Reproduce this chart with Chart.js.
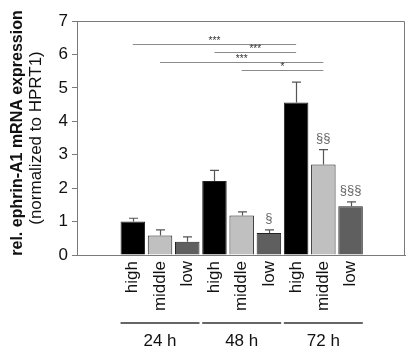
<!DOCTYPE html>
<html>
<head>
<meta charset="utf-8">
<script src="https://cdn.jsdelivr.net/npm/chart.js@4"></script>
<style>
  html, body { margin: 0; padding: 0; background: #fff; }
  #wrap { width: 416px; height: 358px; }
</style>
</head>
<body>
<div id="wrap"><canvas id="chart" width="416" height="358"></canvas></div>
<script>
// data
const groups = ['24 h', '48 h', '72 h'];
const levels = ['high', 'middle', 'low'];
const means = [1.00, 0.58, 0.40, 2.21, 1.18, 0.66, 4.56, 2.71, 1.46];
const errors = [0.10, 0.17, 0.14, 0.32, 0.11, 0.09, 0.61, 0.44, 0.13];
const levelColors = ['#000000', '#c0c0c0', '#5f5f5f'];
// significance brackets: from bar, to bar, stars, height
const sigFrom = [0, 3, 1, 4];
const sigTo = [6, 6, 7, 7];
const sigStars = ['***', '***', '***', '*'];
const sigHeight = [6.32, 6.06, 5.78, 5.52];
// § marks over bars
const markBars = [5, 7, 8];
const markText = ['§', '§§', '§§§'];

const FONT = '"Liberation Sans", Arial, sans-serif';

const points = means.map((v, i) => ({ x: i + 1, y: v }));
const colors = means.map((v, i) => levelColors[i % 3]);

const extras = {
  id: 'extras',
  afterDatasetsDraw(chart) {
    const ctx = chart.ctx;
    const x = chart.scales.x, y = chart.scales.y;
    const area = chart.chartArea;
    ctx.save();

    // frame
    ctx.strokeStyle = '#7a7a7a';
    ctx.lineWidth = 1;
    ctx.beginPath();
    ctx.moveTo(area.left, area.top + 0.5);
    ctx.lineTo(area.right - 0.5, area.top + 0.5);
    ctx.lineTo(area.right - 0.5, area.bottom);
    ctx.stroke();

    // error bars
    ctx.strokeStyle = '#555';
    ctx.lineWidth = 1.2;
    means.forEach((m, i) => {
      const px = Math.round(x.getPixelForValue(i + 1)) + 0.5;
      const y0 = y.getPixelForValue(m);
      const y1 = y.getPixelForValue(m + errors[i]);
      ctx.beginPath();
      ctx.moveTo(px, y0);
      ctx.lineTo(px, y1);
      ctx.moveTo(px - 4.5, y1);
      ctx.lineTo(px + 4.5, y1);
      ctx.stroke();
    });

    // significance lines
    ctx.strokeStyle = '#8a8a8a';
    ctx.lineWidth = 1;
    ctx.fillStyle = '#333';
    ctx.font = '10px ' + FONT;
    ctx.textAlign = 'center';
    ctx.textBaseline = 'bottom';
    sigFrom.forEach((f, k) => {
      const xa = x.getPixelForValue(f + 1);
      const xb = x.getPixelForValue(sigTo[k] + 1);
      const py = Math.round(y.getPixelForValue(sigHeight[k])) + 0.5;
      ctx.beginPath();
      ctx.moveTo(xa, py);
      ctx.lineTo(xb, py);
      ctx.stroke();
      ctx.fillText(sigStars[k], (xa + xb) / 2, py + 2);
    });

    // § marks
    ctx.fillStyle = '#666';
    ctx.font = '13px ' + FONT;
    ctx.textBaseline = 'bottom';
    markBars.forEach((b, k) => {
      const px = x.getPixelForValue(b + 1);
      const py = y.getPixelForValue(means[b] + errors[b]);
      ctx.fillText(markText[k], px, py - 5);
    });

    // group lines and labels
    ctx.strokeStyle = '#333';
    ctx.lineWidth = 1.5;
    ctx.fillStyle = '#111';
    ctx.font = '17px ' + FONT;
    ctx.textBaseline = 'middle';
    groups.forEach((g, k) => {
      const xa = x.getPixelForValue(k * 3 + 1 - 0.45);
      const xb = x.getPixelForValue(k * 3 + 3 + 0.45);
      ctx.beginPath();
      ctx.moveTo(xa, 323);
      ctx.lineTo(xb, 323);
      ctx.stroke();
      ctx.fillText(g, (xa + xb) / 2, 341);
    });

    // y axis title, two lines
    const cy = (area.top + area.bottom) / 2;
    ctx.fillStyle = '#111';
    ctx.translate(18, cy - 5);
    ctx.rotate(-Math.PI / 2);
    ctx.font = 'bold 16px ' + FONT;
    ctx.fillText('rel. ephrin-A1 mRNA expression', 0, 0);
    ctx.font = '17px ' + FONT;
    ctx.fillText('(normalized to HPRT1)', -5, 18);
    ctx.restore();
  }
};

new Chart(document.getElementById('chart'), {
  type: 'bar',
  data: {
    datasets: [{
      data: points,
      backgroundColor: colors,
      borderColor: '#222',
      borderWidth: 1,
      barPercentage: 0.9,
      categoryPercentage: 1
    }]
  },
  options: {
    responsive: false,
    animation: false,
    events: [],
    layout: { padding: { top: 21, right: 11, left: 0, bottom: 0 } },
    plugins: { legend: { display: false }, tooltip: { enabled: false } },
    scales: {
      x: {
        type: 'linear',
        offset: false,
        min: -1.05,
        max: 11,
        grid: { display: false, drawTicks: false, offset: false },
        border: { display: true, color: '#7a7a7a', width: 1 },
        afterBuildTicks(scale) {
          scale.ticks = means.map((m, i) => ({ value: i + 1 }));
        },
        afterFit(scale) { scale.height = 103; },
        ticks: {
          autoSkip: false,
          minRotation: 90,
          maxRotation: 90,
          padding: 6,
          color: '#111',
          font: { family: FONT, size: 17 },
          callback: (v) => levels[(v - 1) % 3]
        }
      },
      y: {
        min: 0,
        max: 7,
        grid: { drawOnChartArea: false, color: '#7a7a7a', tickLength: 5 },
        border: { display: true, color: '#7a7a7a', width: 1 },
        afterFit(scale) { scale.width = 77; },
        ticks: {
          stepSize: 1,
          padding: 4,
          color: '#111',
          font: { family: FONT, size: 17 }
        }
      }
    }
  },
  plugins: [extras]
});
</script>
</body>
</html>
